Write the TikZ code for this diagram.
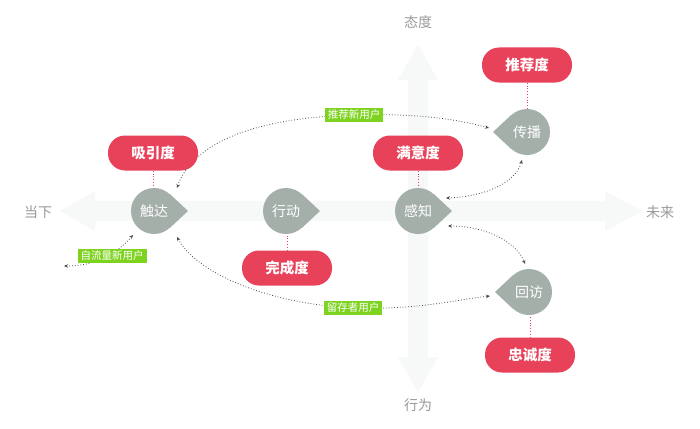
\documentclass[tikz,border=0pt]{standalone}
\usepackage{fontspec}
\newfontfamily\cjk{Noto Sans CJK SC}
\usetikzlibrary{arrows.meta,calc}
\pgfdeclarelayer{bg}
\pgfdeclarelayer{mid}
\pgfsetlayers{bg,mid,main}
\definecolor{bandgray}{HTML}{F7F8F8}
\definecolor{sage}{HTML}{A4AFAA}
\definecolor{redpill}{HTML}{E8425A}
\definecolor{limetag}{HTML}{7ED321}
\definecolor{axistext}{HTML}{9A9A9A}
\definecolor{dotgray}{HTML}{4A4A4A}
\begin{document}
\begin{tikzpicture}[x=1pt,y=-1pt,
 tear/.style={circle,fill=sage,minimum size=46pt,inner sep=0pt,text=white,font=\cjk\fontsize{14}{14}\selectfont},
 pill/.style={rectangle,rounded corners=17pt,fill=redpill,minimum width=90pt,minimum height=35pt,inner sep=0pt,text=white,font=\cjk\bfseries\fontsize{14.5}{15}\selectfont},
 tag/.style={rectangle,fill=limetag,text=white,inner xsep=3pt,inner ysep=1.5pt,minimum height=14pt,font=\cjk\fontsize{10.5}{11}\selectfont},
 axislabel/.style={text=axistext,font=\cjk\fontsize{14}{14}\selectfont},
 link/.style={draw=dotgray,dotted,line width=0.8pt,{Stealth[length=4pt,width=3.5pt]}-{Stealth[length=4pt,width=3.5pt]}},
 redlink/.style={draw=redpill,dotted,line width=0.8pt}
]
\useasboundingbox (0,0) rectangle (700,428);
\begin{pgfonlayer}{bg}
\fill[white] (0,0) rectangle (700,428);
\fill[bandgray] (60,211) -- (95,191) -- (95,201) -- (605,201) -- (605,191) -- (642,211) -- (605,231) -- (605,221) -- (95,221) -- (95,231) -- cycle;
\fill[bandgray] (418,45) -- (438,80) -- (428,80) -- (428,357) -- (438,357) -- (418,392) -- (398,357) -- (408,357) -- (408,80) -- (398,80) -- cycle;
\end{pgfonlayer}

% axis labels
\node[axislabel] (now) at (38,212) {当下};
\node[axislabel] (future) at (660,212) {未来};
\node[axislabel] (attitude) at (418,22) {态度};
\node[axislabel] (behavior) at (418,405) {行为};

% teardrops
\node[tear] (chuda) at (154,211) {触达};
\node[tear] (xingdong) at (286,211) {行动};
\node[tear] (ganzhi) at (418,211) {感知};
\node[tear] (chuanbo) at (527,132) {传播};
\node[tear] (huifang) at (529,292) {回访};

% pills
\node[pill] (xiyin) at (153,153) {吸引度};
\node[pill] (wancheng) at (287,268) {完成度};
\node[pill] (manyi) at (418,153) {满意度};
\node[pill] (tuijian) at (527,65) {推荐度};
\node[pill] (zhongcheng) at (530,355) {忠诚度};

% green tags
\node[tag] (tagnew) at (354,115) {推荐新用户};
\node[tag] (tagflow) at (112,256) {自流量新用户};
\node[tag] (tagkeep) at (353,308) {留存者用户};

\coordinate (flowsrc) at (64,266);

\begin{pgfonlayer}{mid}
\foreach \n in {chuda,xingdong,ganzhi}
  \fill[sage] (\n.47) -- ($(\n.center)+(34,0)$) -- (\n.-47) -- cycle;
\foreach \n in {chuanbo,huifang}
  \fill[sage] (\n.133) -- ($(\n.center)+(-34,0)$) -- (\n.-133) -- cycle;

\draw[redlink] (xiyin.south) -- (xiyin.south |- chuda.north);
\draw[redlink] (wancheng.north) -- (wancheng.north |- xingdong.south);
\draw[redlink] (manyi) -- (ganzhi);
\draw[redlink] (tuijian) -- (chuanbo);
\draw[redlink] (zhongcheng.north) -- (zhongcheng.north |- huifang.south);

\draw[link] ($(chuda)+(23,-23)$) .. controls (190,150) and (240,118) .. (tagnew.center)
  .. controls (420,113) and (460,120) .. ($(chuanbo)+(-38,-4)$);
\draw[link] ($(ganzhi)+(28,-13)$) .. controls (480,197) and (515,185) .. ($(chuanbo)+(-5,28)$);
\draw[link] ($(ganzhi)+(30,15)$) .. controls (490,226) and (518,245) .. ($(huifang)+(-4,-28)$);
\draw[link] ($(chuda)+(23,26)$) .. controls (195,270) and (260,303) .. (tagkeep.center)
  .. controls (420,310) and (460,299) .. ($(huifang)+(-39,4)$);
\draw[link] (flowsrc) .. controls (100,266) and (120,250) .. ($(chuda)+(-21,24)$);
\end{pgfonlayer}
\end{tikzpicture}
\end{document}
